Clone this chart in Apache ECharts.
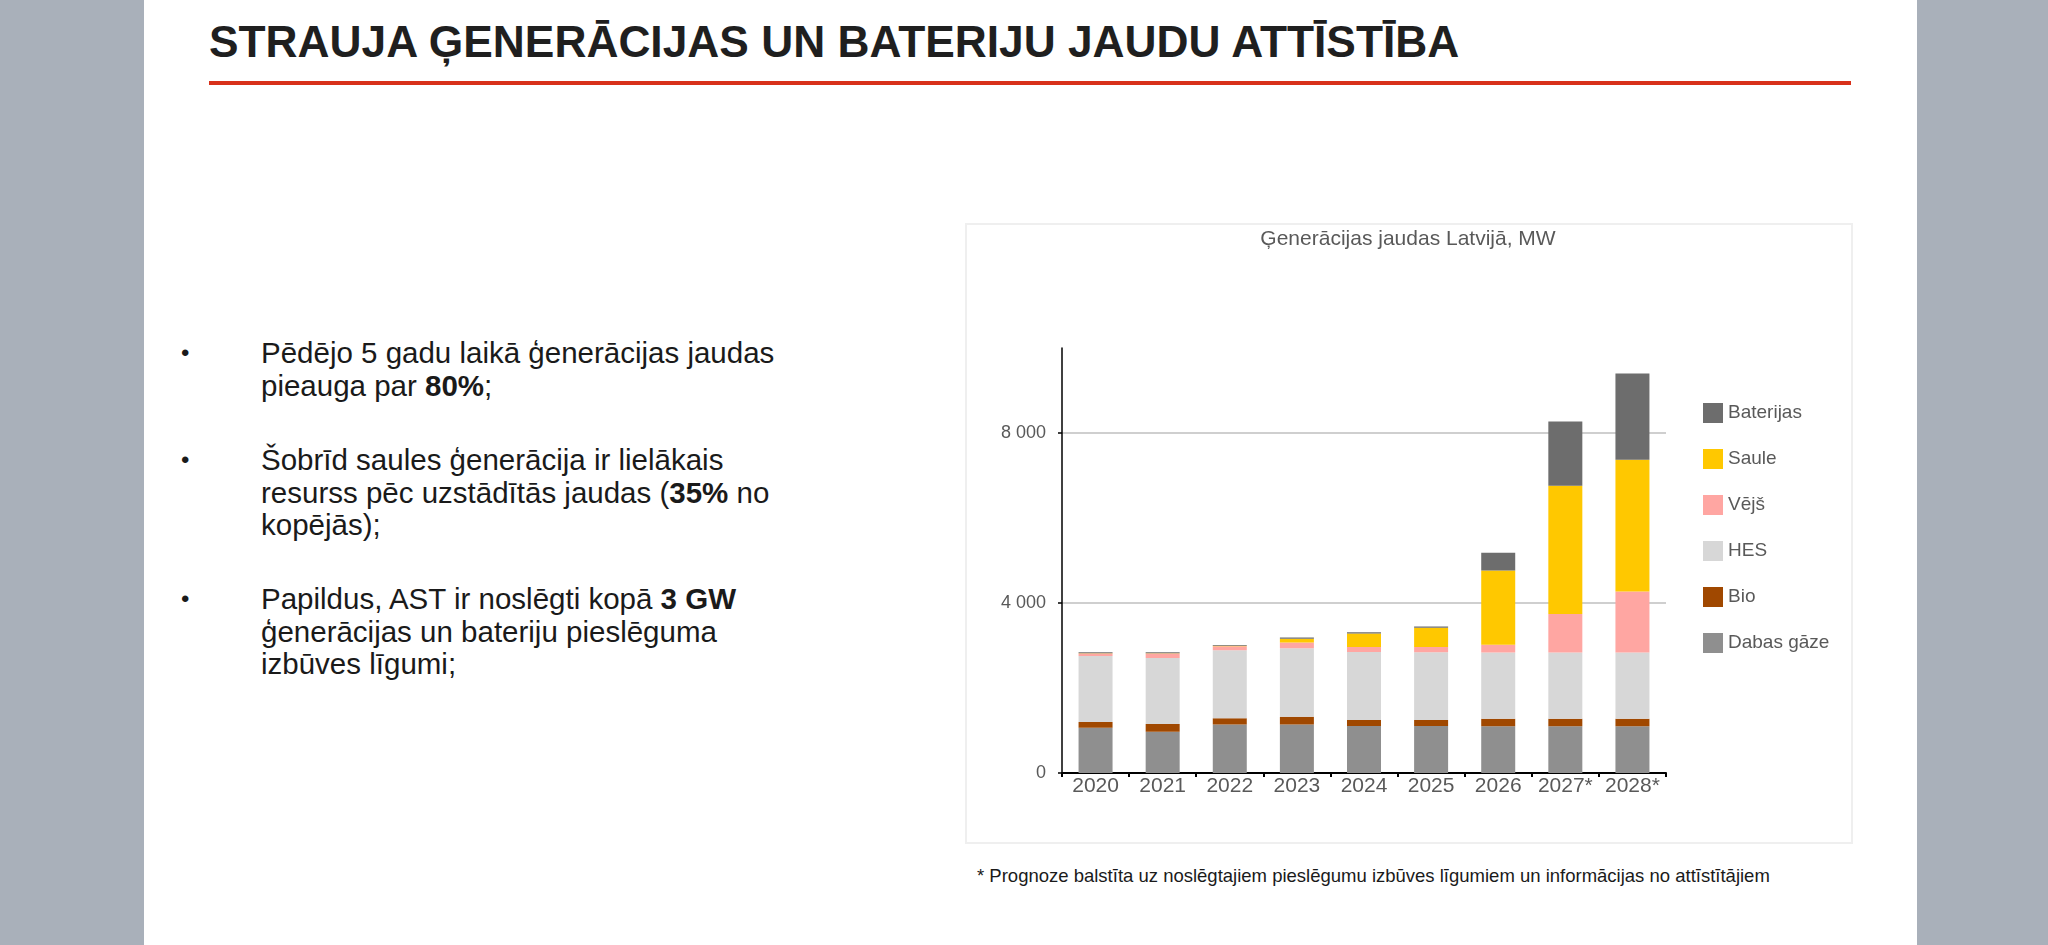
<!DOCTYPE html>
<html>
<head>
<meta charset="utf-8">
<script src="https://cdn.jsdelivr.net/npm/echarts@6/dist/echarts.min.js"></script>
<style>
  html, body { margin: 0; padding: 0; }
  body { width: 2048px; height: 945px; background: #a9b0ba; position: relative; overflow: hidden;
         font-family: "Liberation Sans", Arial, sans-serif; }
  #slide { position: absolute; left: 144px; top: 0; width: 1773px; height: 945px; background: #fff; }
  #title { position: absolute; left: 209px; top: 13px; font-size: 44.3px; font-weight: bold; color: #1f1f1f;
           white-space: nowrap; line-height: 58px; }
  #rule { position: absolute; left: 209px; top: 81px; width: 1642px; height: 4px; background: #d8311a; }
  .para { position: absolute; left: 261px; font-size: 29.5px; line-height: 32.5px; color: #1a1a1a; white-space: nowrap; }
  .bullet { position: absolute; left: 181px; font-size: 24px; line-height: 32.5px; color: #1a1a1a; }
  #box { position: absolute; left: 965px; top: 223px; width: 884px; height: 617px; border: 2px solid #efefef; }
  #chart { position: absolute; left: 965px; top: 223px; width: 886px; height: 619px; }
  #note { position: absolute; left: 977px; top: 864px; font-size: 18.5px; line-height: 24px; color: #1a1a1a; white-space: nowrap; }
</style>
</head>
<body>
<div id="slide"></div>
<div id="title">STRAUJA ĢENERĀCIJAS UN BATERIJU JAUDU ATTĪSTĪBA</div>
<div id="rule"></div>

<div class="bullet" style="top:337px">•</div>
<div class="para" style="top:337px">Pēdējo 5 gadu laikā ģenerācijas jaudas<br>pieauga par <b>80%</b>;</div>
<div class="bullet" style="top:444px">•</div>
<div class="para" style="top:444px">Šobrīd saules ģenerācija ir lielākais<br>resurss pēc uzstādītās jaudas (<b>35%</b> no<br>kopējās);</div>
<div class="bullet" style="top:583px">•</div>
<div class="para" style="top:583px">Papildus, AST ir noslēgti kopā <b>3 GW</b><br>ģenerācijas un bateriju pieslēguma<br>izbūves līgumi;</div>

<div id="box"></div>
<div id="chart"></div>
<div id="note">* Prognoze balstīta uz noslēgtajiem pieslēgumu izbūves līgumiem un informācijas no attīstītājiem</div>

<script>
// gadi un jaudas (MW), nolasīts no attēla
const years = ['2020', '2021', '2022', '2023', '2024', '2025', '2026', '2027*', '2028*'];
const gas   = [1065, 970, 1144, 1144, 1105, 1105, 1102, 1102, 1102];
const bio   = [134, 182, 142, 181, 142, 142, 174, 174, 174];
const hes   = [1555, 1554, 1602, 1610, 1601, 1593, 1559, 1559, 1559];
const wind  = [55, 103, 95, 134, 119, 127, 181, 905, 1433];
const solar = [10, 10, 10, 87, 315, 449, 1748, 3016, 3102];
const batt  = [20, 20, 20, 32, 32, 32, 417, 1512, 2032];
const yTicks = [0, 4000, 8000];

const seriesDefs = [
  { name: 'Dabas gāze', data: gas,   color: '#8f8f8f' },
  { name: 'Bio',        data: bio,   color: '#a04800' },
  { name: 'HES',        data: hes,   color: '#d7d7d7' },
  { name: 'Vējš',       data: wind,  color: '#ffa6a2' },
  { name: 'Saule',      data: solar, color: '#ffc800' },
  { name: 'Baterijas',  data: batt,  color: '#6d6d6d' }
];

function fmtThousands(v) {
  return String(v).replace(/\B(?=(\d{3})+(?!\d))/g, ' ');
}

const myChart = echarts.init(document.getElementById('chart'));

const option = {
  animation: false,
  textStyle: { fontFamily: '"Liberation Sans", Arial, sans-serif' },
  title: {
    text: 'Ģenerācijas jaudas Latvijā, MW',
    left: 'center',
    top: 1,
    textStyle: { color: '#595959', fontSize: 21, fontWeight: 'normal' }
  },
  legend: {
    orient: 'vertical',
    left: 733,
    top: 175,
    itemWidth: 20,
    itemHeight: 20,
    itemGap: 26,
    icon: 'rect',
    data: seriesDefs.map(s => s.name).reverse(),
    textStyle: { color: '#595959', fontSize: 19 }
  },
  grid: { left: 97, top: 125, width: 604, height: 425, containLabel: false },
  xAxis: {
    type: 'category',
    data: years,
    axisLine: { lineStyle: { color: '#000', width: 2 } },
    axisTick: { show: true, length: 4, lineStyle: { color: '#000', width: 2 } },
    axisLabel: { color: '#595959', fontSize: 21, margin: 3, interval: 0 }
  },
  yAxis: {
    type: 'value',
    min: 0,
    max: 10000,
    interval: 4000,
    axisLine: { show: true, lineStyle: { color: '#000', width: 1.5 } },
    axisTick: { show: true, length: 4, customValues: yTicks, lineStyle: { color: '#000', width: 1.5 } },
    axisLabel: { color: '#595959', fontSize: 18, margin: 16, customValues: yTicks, formatter: fmtThousands },
    splitLine: { show: true, showMinLine: false, lineStyle: { color: '#bfbfbf', width: 1.5 } }
  },
  series: seriesDefs.map(s => ({
    name: s.name,
    type: 'bar',
    stack: 'total',
    barWidth: 34,
    data: s.data,
    itemStyle: { color: s.color },
    emphasis: { disabled: true }
  }))
};

myChart.setOption(option);

window.addEventListener('resize', function () {
  myChart.resize();
});
</script>
</body>
</html>
